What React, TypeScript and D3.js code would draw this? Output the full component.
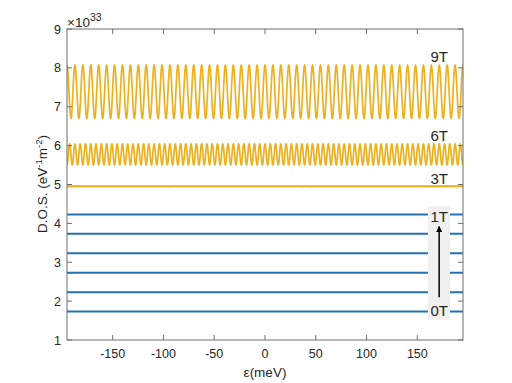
import React from "react";
import * as d3 from "d3";

// ---- data ----
const xTicks = [-150, -100, -50, 0, 50, 100, 150];
const yTicks = [1, 2, 3, 4, 5, 6, 7, 8, 9];
const xDomain = [-195, 195];
const yDomain = [1, 9];

// oscillating (Landau-quantised) curves, units of 1e33
const oscLabels = ["9T", "6T", "3T"];
const oscMean = [7.385, 5.775, 4.955];
const oscAmp = [0.685, 0.27, 0.012];
const oscPeriod = [7.8, 5.2, 2.6]; // meV
const oscLabelBaseline = [61.7, 141, 184.3];

// flat, low-field levels
const flatLevels = [1.73, 2.23, 2.73, 3.23, 3.73, 4.23];
const flatLabels = ["0T", "1T"];

const W = 512;
const H = 383;
const L = 67, R = 463, T = 29, B = 340;
const FONT = "'Liberation Sans', Arial, Helvetica, sans-serif";
const ORANGE = "#EDB120";
const BLUE = "#2372B1";
const AXIS = "#6e6e6e";
const TEXT = "#262626";

export default function App() {
  const x = d3.scaleLinear().domain(xDomain).range([L, R]);
  const y = d3.scaleLinear().domain(yDomain).range([B, T]);

  const energies = d3.range(xDomain[0], xDomain[1] + 0.0001, 0.1);
  const line = d3
    .line<[number, number]>()
    .x((d) => x(d[0]))
    .y((d) => y(d[1]));

  const oscPaths = oscLabels.map((_, i) =>
    line(
      energies.map((e) => [
        e,
        oscMean[i] + oscAmp[i] * Math.cos((2 * Math.PI * e) / oscPeriod[i]),
      ])
    )
  );

  const tick = 5;
  const boxX0 = x(160.5), boxX1 = x(182.2);
  const boxY0 = y(4.44), boxY1 = y(1.52);
  const arrowX = x(171.5);

  return (
    <svg
      width={W}
      height={H}
      style={{ position: "absolute", left: 0, top: 0, background: "#fff" }}
      fontFamily={FONT}
    >
      <defs>
        <clipPath id="plot">
          <rect x={L} y={T} width={R - L} height={B - T} />
        </clipPath>
        <marker
          id="ah"
          viewBox="0 0 10 10"
          refX="9"
          refY="5"
          markerWidth="6"
          markerHeight="6"
          markerUnits="userSpaceOnUse"
          orient="auto"
        >
          <path d="M0,0 L10,5 L0,10 z" fill="#000" />
        </marker>
      </defs>

      <g clipPath="url(#plot)">
        {flatLevels.map((v, i) => (
          <line
            key={"f" + i}
            x1={L}
            x2={R}
            y1={y(v)}
            y2={y(v)}
            stroke={BLUE}
            strokeWidth={2}
          />
        ))}
        {oscPaths.map((p, i) => (
          <path
            key={"o" + i}
            d={p || ""}
            fill="none"
            stroke={ORANGE}
            strokeWidth={i === 2 ? 1.8 : 1.7}
          />
        ))}
      </g>

      {/* arrow annotation box */}
      <rect x={boxX0} y={boxY0} width={boxX1 - boxX0} height={boxY1 - boxY0} fill="#f0f0f0" />
      <line
        x1={arrowX}
        x2={arrowX}
        y1={y(2.1)}
        y2={y(3.92)}
        stroke="#000"
        strokeWidth={1.5}
        markerEnd="url(#ah)"
      />

      {/* field labels */}
      {oscLabels.map((t, i) => (
        <text
          key={"ol" + i}
          x={arrowX}
          y={oscLabelBaseline[i]}
          textAnchor="middle"
          fontSize={15}
          fill={TEXT}
        >
          {t}
        </text>
      ))}
      <text x={arrowX} y={222.3} textAnchor="middle" fontSize={15} fill={TEXT}>
        {flatLabels[1]}
      </text>
      <text x={arrowX} y={316} textAnchor="middle" fontSize={15} fill={TEXT}>
        {flatLabels[0]}
      </text>

      {/* axes box */}
      <rect x={L} y={T} width={R - L} height={B - T} fill="none" stroke={AXIS} strokeWidth={1} />

      {/* x ticks */}
      {xTicks.map((t) => (
        <g key={"xt" + t}>
          <line x1={x(t)} x2={x(t)} y1={B} y2={B - tick} stroke={AXIS} />
          <line x1={x(t)} x2={x(t)} y1={T} y2={T + tick} stroke={AXIS} />
          <text x={x(t)} y={358} textAnchor="middle" fontSize={12.5} fill={TEXT}>
            {t}
          </text>
        </g>
      ))}

      {/* y ticks */}
      {yTicks.map((t) => (
        <g key={"yt" + t}>
          <line x1={L} x2={L + tick} y1={y(t)} y2={y(t)} stroke={AXIS} />
          <line x1={R} x2={R - tick} y1={y(t)} y2={y(t)} stroke={AXIS} />
          <text x={61} y={y(t) + 4.5} textAnchor="end" fontSize={12.5} fill={TEXT}>
            {t}
          </text>
        </g>
      ))}

      {/* exponent */}
      <text x={67} y={26.5} fontSize={13.5} fill={TEXT}>
        ×10
        <tspan fontSize={10.5} dy={-6}>
          33
        </tspan>
      </text>

      {/* axis labels */}
      <text x={265} y={377} textAnchor="middle" fontSize={13.5} fill={TEXT}>
        ε(meV)
      </text>
      <text
        transform={`translate(47, ${184}) rotate(-90)`}
        textAnchor="middle"
        fontSize={13.5}
        fill={TEXT}
      >
        D.O.S. (eV
        <tspan fontSize={9.5} dy={-5}>
          -1
        </tspan>
        <tspan dy={5}>m</tspan>
        <tspan fontSize={9.5} dy={-5}>
          -2
        </tspan>
        <tspan dy={5}>)</tspan>
      </text>
    </svg>
  );
}
